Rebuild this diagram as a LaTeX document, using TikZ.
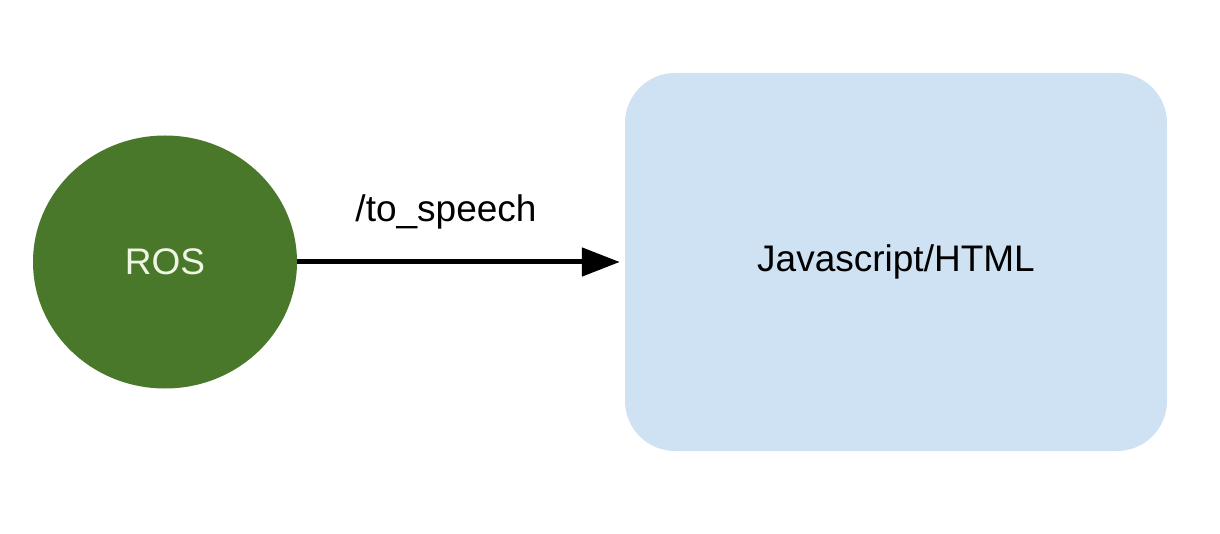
\documentclass[tikz,border=0pt]{standalone}
\usepackage{fontspec}
\setmainfont{Liberation Sans}
\usetikzlibrary{arrows.meta,shapes.geometric}
\definecolor{rosgreen}{RGB}{74,120,43}
\definecolor{rostext}{RGB}{238,246,226}
\definecolor{webblue}{RGB}{207,226,243}

\begin{document}
\begin{tikzpicture}[x=1pt,y=-1pt,
		font=\fontsize{37}{44}\selectfont,
		rosnode/.style={ellipse, fill=rosgreen, text=rostext, minimum width=264pt, minimum height=253pt, inner sep=0pt},
		webbox/.style={rectangle, rounded corners=50pt, fill=webblue, minimum width=542pt, minimum height=378pt, inner sep=0pt},
		topic/.style={line width=5pt, -{Triangle[length=38pt,width=28pt]}, shorten >=5pt}]
			\useasboundingbox (0,0) rectangle (1220,534);
			% Nodes
			\node[rosnode] (ros) at (165,262) {ROS};
			\node[webbox] (web) at (896,262) {Javascript/HTML};
			\node[anchor=base, inner sep=0pt] (topiclabel) at (446,222) {/to\_speech};
			% Connector
			\draw[topic] (ros) -- (web);
		\end{tikzpicture}
\end{document}
